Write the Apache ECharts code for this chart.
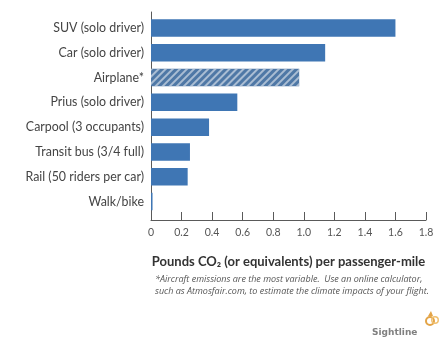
<!DOCTYPE html>
<html>
<head>
<meta charset="utf-8">
<script src="https://cdn.jsdelivr.net/npm/echarts@6/dist/echarts.min.js"></script>
<style>
  html, body { margin: 0; padding: 0; background: #ffffff; }
  #chart { width: 441px; height: 340px; }
</style>
</head>
<body>
<div id="chart"></div>
<script>
// Travel modes, top to bottom
const modes = [
  'SUV (solo driver)',
  'Car (solo driver)',
  'Airplane*',
  'Prius (solo driver)',
  'Carpool (3 occupants)',
  'Transit bus (3/4 full)',
  'Rail (50 riders per car)',
  'Walk/bike'
];
// Pounds of CO2 (or equivalents) per passenger-mile
const emissions = [1.6, 1.14, 0.97, 0.565, 0.38, 0.255, 0.24, 0.01];
// Modes whose estimate is highly variable (drawn hatched)
const variableModes = ['Airplane*'];
const tickLabels = ['0', '0.2', '0.4', '0.6', '0.8', '1.0', '1.2', '1.4', '1.6', '1.8'];
const axisTitle = 'Pounds CO\u2082 (or equivalents) per passenger-mile';
const footnoteLines = [
  '*Aircraft emissions are the most variable.  Use an online calculator,',
  'such as Atmosfair.com, to estimate the climate impacts of your flight.'
];
const brand = 'Sightline';

const BLUE = '#3f76b4';
const labelFont = 'Lato, "Open Sans", sans-serif';

const chart = echarts.init(document.getElementById('chart'), null, { renderer: 'canvas' });

const barData = modes.map((m, i) => {
  if (variableModes.includes(m)) {
    return {
      value: emissions[i],
      itemStyle: {
        color: '#4f78a6',
        decal: {
          symbol: 'rect',
          symbolSize: 1,
          dashArrayX: [1, 0],
          dashArrayY: [2, 3],
          rotation: -Math.PI / 4,
          color: 'rgba(200, 212, 226, 0.75)'
        }
      }
    };
  }
  return emissions[i];
});

chart.setOption({
  animation: false,
  grid: [
    { left: 151, right: 15, top: 15.5, height: 198.5 },
    { left: 151, right: 15, top: 12, height: 208 }
  ],
  xAxis: [
    { gridIndex: 0, type: 'value', min: 0, max: 1.8, show: false },
    {
      gridIndex: 1, type: 'value', min: 0, max: 1.8, interval: 0.2,
      axisLine: { show: true, lineStyle: { color: '#5a5a5a', width: 1 } },
      axisTick: { show: true, inside: true, length: 8, lineStyle: { color: '#5a5a5a' } },
      splitLine: { show: false },
      axisLabel: {
        margin: 7,
        color: '#555',
        fontSize: 10.5,
        fontFamily: labelFont,
        formatter: v => tickLabels[Math.round(v / 0.2)]
      },
      name: axisTitle,
      nameLocation: 'middle',
      nameGap: 35,
      nameTextStyle: { color: '#333', fontSize: 13, fontWeight: 'bold', fontFamily: labelFont }
    }
  ],
  yAxis: [
    {
      gridIndex: 0, type: 'category', data: modes, inverse: true,
      axisLine: { show: false }, axisTick: { show: false },
      axisLabel: { margin: 7, color: '#444', fontSize: 12.4, fontFamily: labelFont }
    },
    {
      gridIndex: 1, type: 'value', min: 0, max: 1,
      axisLine: { show: true, lineStyle: { color: '#5a5a5a', width: 1 } },
      axisTick: { show: false }, axisLabel: { show: false }, splitLine: { show: false }
    }
  ],
  series: [{
    type: 'bar',
    xAxisIndex: 0,
    yAxisIndex: 0,
    data: barData,
    barWidth: 17.5,
    itemStyle: { color: BLUE },
    z: 3
  }],
  graphic: [
    {
      type: 'text', left: 155, top: 273,
      style: {
        text: footnoteLines.join('\n'),
        fill: '#555', font: 'italic 9px "Open Sans", sans-serif', lineHeight: 12.5
      }
    },
    {
      type: 'text', left: 372, top: 328,
      style: { text: brand, fill: '#808080', font: 'bold 9px "DejaVu Sans", sans-serif' }
    },
    {
      type: 'group', left: 425, top: 311,
      children: [
        { type: 'ring', shape: { cx: 5, cy: 10, r: 5, r0: 3 }, style: { fill: '#e3a447' } },
        { type: 'ring', shape: { cx: 10, cy: 9, r: 4, r0: 2.5 }, style: { fill: '#f0c070' } },
        { type: 'polygon', shape: { points: [[3, 5], [6, 0], [8, 5]] }, style: { fill: '#e3a447' } }
      ]
    }
  ]
});
</script>
</body>
</html>
